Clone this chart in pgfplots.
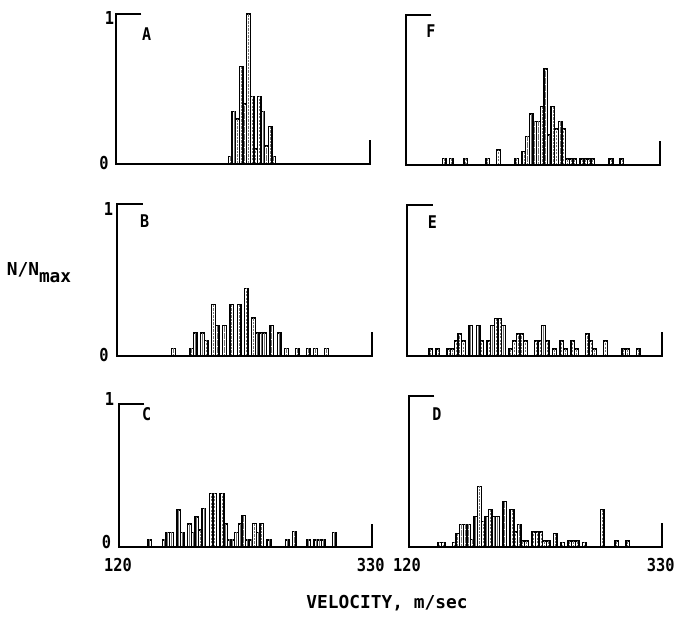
\documentclass[border=0pt]{standalone}
\usepackage{pgfplots}
\usepackage{pgfplotstable}
\pgfplotsset{compat=1.18}
\usepackage{fontspec}
\setmainfont[FakeStretch=0.86]{DejaVu Sans Mono}
\newfontfamily\labfont{DejaVu Sans Mono}
\pgfplotstableread{
v h
214.5 .05
217.5 .35
220.5 .30
223.5 .65
226.5 .40
229.5 1.0
232.5 .45
235.5 .10
238.5 .45
241.5 .35
244.5 .12
247.5 .25
250.5 .05
}\dataA
\pgfplotstableread{
v h
151.5 .045
157.5 .045
169.5 .045
187.5 .045
196.5 .10
211.5 .045
217.5 .09
220.5 .19
223.5 .34
226.5 .29
229.5 .29
232.5 .39
235.5 .64
238.5 .20
241.5 .39
244.5 .24
247.5 .29
250.5 .24
253.5 .04
256.5 .04
259.5 .04
265.5 .04
268.5 .04
271.5 .04
274.5 .04
289.5 .04
298.5 .04
}\dataF
\pgfplotstableread{
v h
166.5 .05
181.5 .05
184.5 .15
190.5 .15
193.5 .10
199.5 .34
202.5 .20
208.5 .20
214.5 .34
220.5 .34
226.5 .445
232.5 .25
235.5 .15
238.5 .15
241.5 .15
247.5 .20
253.5 .15
259.5 .05
268.5 .05
277.5 .05
283.5 .05
292.5 .05
}\dataB
\pgfplotstableread{
v h
139.5 .045
145.5 .045
154.5 .045
157.5 .045
160.5 .10
163.5 .145
166.5 .10
172.5 .20
178.5 .20
181.5 .10
187.5 .10
190.5 .20
193.5 .25
196.5 .25
199.5 .20
205.5 .045
208.5 .10
211.5 .145
214.5 .145
217.5 .10
226.5 .10
229.5 .10
232.5 .20
235.5 .10
241.5 .045
247.5 .10
250.5 .045
256.5 .10
259.5 .045
268.5 .145
271.5 .10
274.5 .045
283.5 .10
298.5 .045
301.5 .045
310.5 .045
}\dataE
\pgfplotstableread{
v h
145.5 .05
157.5 .05
160.5 .10
163.5 .10
169.5 .26
172.5 .10
178.5 .16
181.5 .10
184.5 .21
187.5 .12
190.5 .27
196.5 .375
199.5 .375
205.5 .375
208.5 .16
211.5 .05
214.5 .05
217.5 .10
220.5 .16
223.5 .22
226.5 .05
229.5 .05
232.5 .165
235.5 .10
238.5 .165
244.5 .05
259.5 .05
265.5 .11
277.5 .05
283.5 .05
286.5 .05
289.5 .05
298.5 .10
}\dataC
\pgfplotstableread{
v h
145.5 .03
148.5 .03
157.5 .03
160.5 .09
163.5 .15
166.5 .15
169.5 .15
172.5 .05
175.5 .20
178.5 .40
181.5 .17
184.5 .20
187.5 .25
190.5 .20
193.5 .20
199.5 .30
205.5 .25
208.5 .10
211.5 .15
214.5 .04
217.5 .04
223.5 .10
226.5 .10
229.5 .10
232.5 .04
235.5 .04
241.5 .09
247.5 .03
253.5 .04
256.5 .04
259.5 .04
265.5 .03
280.5 .25
292.5 .04
301.5 .04
}\dataD
\pgfplotsset{
  panel/.style={
    scale only axis, hide axis, clip=false,
    xmin=120, xmax=330, ymin=0, ymax=1,
    ybar, bar shift=0pt,
    anchor=south west,
  },
  bars/.style={fill=white, draw=black, line width=0.85pt, bar width=3},
  hatch/.style={draw=black!55, line width=0.45pt, dash pattern=on 1.2pt off 0.9pt, bar width=0.001},
}
\newcommand{\panelbars}[1]{%
  \addplot[bars] table[x=v,y=h] {#1};
  \addplot[hatch] table[x=v,y=h] {#1};
  \draw[line width=1.3pt, line join=miter] (axis cs:141,1) -- (axis cs:120,1) -- (axis cs:120,0) -- (axis cs:330,0) -- (axis cs:330,0.16);}
\begin{document}
\begin{tikzpicture}
\useasboundingbox (0,0) rectangle (407.4pt,370.8pt);
\begin{axis}[panel, at={(69.6pt,272.4pt)}, width=152.4pt, height=90pt]
\panelbars{\dataA}
\end{axis}
\begin{axis}[panel, at={(243.6pt,271.8pt)}, width=152.4pt, height=90pt]
\panelbars{\dataF}
\end{axis}
\begin{axis}[panel, at={(70.2pt,157.2pt)}, width=153pt, height=91.2pt]
\panelbars{\dataB}
\end{axis}
\begin{axis}[panel, at={(244.2pt,157.2pt)}, width=153pt, height=90.6pt]
\panelbars{\dataE}
\end{axis}
\begin{axis}[panel, at={(71.4pt,42.6pt)}, width=151.8pt, height=85.8pt]
\panelbars{\dataC}
\end{axis}
\begin{axis}[panel, at={(245.4pt,42.6pt)}, width=151.8pt, height=90.6pt]
\panelbars{\dataD}
\end{axis}
\begin{scope}[every node/.style={font=\fontsize{10.5}{12}\selectfont\bfseries, inner sep=0pt}]
\node at (88.0pt,350.4pt) {A};
\node at (258.6pt,352.2pt) {F};
\node at (86.8pt,237.9pt) {B};
\node at (259.5pt,237.3pt) {E};
\node at (88.0pt,122.4pt) {C};
\node at (262.2pt,122.4pt) {D};
\end{scope}
\begin{scope}[every node/.style={font=\fontsize{10.7}{13}\selectfont\bfseries, inner sep=0pt}]
\node at (65.7pt,360pt) {1};
\node at (62.4pt,273pt) {0};
\node at (65.1pt,245.4pt) {1};
\node at (62.4pt,157.8pt) {0};
\node at (65.7pt,131.1pt) {1};
\node at (63.9pt,45.6pt) {0};
\node at (70.8pt,31.8pt) {120};
\node at (222.5pt,31.8pt) {330};
\node at (244.2pt,31.8pt) {120};
\node at (396.5pt,31.8pt) {330};
\node[font=\labfont\fontsize{10.7}{13}\selectfont\bfseries] at (232.2pt,9pt) {VELOCITY, m/sec};
\node[font=\labfont\fontsize{10.7}{13}\selectfont\bfseries] at (23.4pt,207pt) {N/N\raisebox{-0.4em}{max}};
\end{scope}
\end{tikzpicture}
\end{document}
